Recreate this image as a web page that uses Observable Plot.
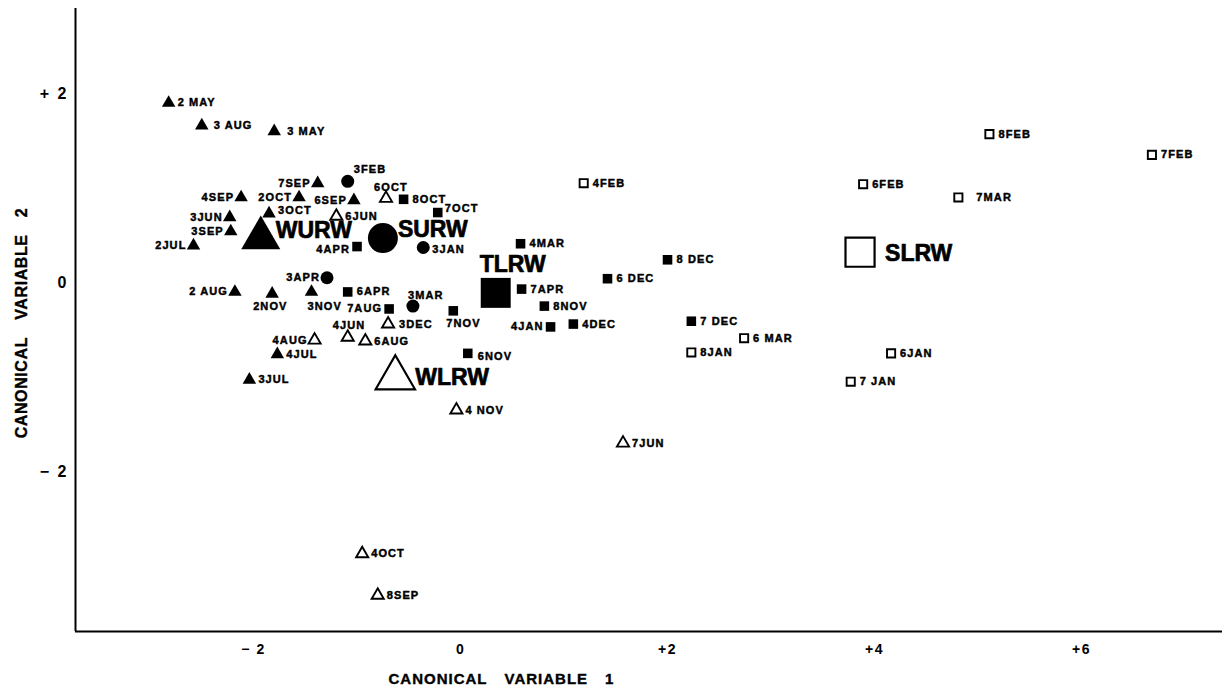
<!DOCTYPE html>
<html>
<head>
<meta charset="utf-8">
<script src="https://cdn.jsdelivr.net/npm/d3@7"></script>
<script src="https://cdn.jsdelivr.net/npm/@observablehq/plot@0.6"></script>
<style>
  html, body { margin: 0; padding: 0; background: #fff; }
  #chart svg { display: block; }
  g[aria-description="sample-label"] text { letter-spacing: 1.1px; }
  g[aria-description="x-title"] text { letter-spacing: 1px; }
  g[aria-description="y-title"] text { letter-spacing: 0.6px; }
  g[aria-description="x-tick-label"] text { letter-spacing: 1.5px; }
  g[aria-description="y-tick-label"] text { letter-spacing: 2px; }
</style>
</head>
<body>
<div id="chart"></div>
<script>
// Canonical discriminant scores (variable 1, variable 2) for each monthly sample,
// grouped by site class. Labels are sample number + month.
const wurwDates = ["2 MAY", "3 AUG", "3 MAY", "7SEP", "4SEP", "2OCT", "6SEP", "3OCT", "3JUN", "3SEP", "2JUL", "2 AUG", "2NOV", "3NOV", "4JUL", "3JUL"];
const wurwCV1 = [-2.82, -2.50, -1.80, -1.38, -2.12, -1.56, -1.03, -1.85, -2.23, -2.22, -2.58, -2.18, -1.82, -1.44, -1.77, -2.04];
const wurwCV2 = [1.90, 1.66, 1.60, 1.05, 0.90, 0.90, 0.87, 0.73, 0.69, 0.54, 0.39, -0.10, -0.12, -0.10, -0.76, -1.03];

const wlrwDates = ["6OCT", "6JUN", "4JUN", "3DEC", "6AUG", "4AUG", "4 NOV", "7JUN", "4OCT", "8SEP"];
const wlrwCV1 = [-0.72, -1.20, -1.09, -0.70, -0.92, -1.41, -0.04, 1.57, -0.95, -0.80];
const wlrwCV2 = [0.89, 0.70, -0.58, -0.44, -0.62, -0.61, -1.35, -1.70, -2.87, -3.31];

const surwDates = ["3FEB", "3JAN", "3APR", "3MAR"];
const surwCV1 = [-1.09, -0.36, -1.29, -0.46];
const surwCV2 = [1.07, 0.37, 0.05, -0.25];

const tlrwDates = ["8OCT", "7OCT", "4APR", "4MAR", "6APR", "7AUG", "7APR", "8NOV", "7NOV", "4JAN", "4DEC", "6NOV", "6 DEC", "8 DEC", "7 DEC"];
const tlrwCV1 = [-0.55, -0.22, -1.00, 0.58, -1.09, -0.69, 0.59, 0.81, -0.07, 0.87, 1.09, 0.07, 1.42, 2.00, 2.23];
const tlrwCV2 = [0.88, 0.74, 0.38, 0.41, -0.10, -0.28, -0.07, -0.25, -0.30, -0.47, -0.44, -0.75, 0.04, 0.24, -0.41];

const slrwDates = ["4FEB", "6FEB", "8FEB", "7FEB", "7MAR", "6 MAR", "8JAN", "6JAN", "7 JAN"];
const slrwCV1 = [1.19, 3.89, 5.11, 6.68, 4.81, 2.74, 2.23, 4.16, 3.77];
const slrwCV2 = [1.05, 1.04, 1.57, 1.35, 0.90, -0.59, -0.74, -0.75, -1.05];

// Group centroids
const groupNames = ["WURW", "SURW", "TLRW", "WLRW", "SLRW"];
const groupCV1 = [-1.93, -0.75, 0.34, -0.63, 3.86];
const groupCV2 = [0.47, 0.47, -0.11, -1.01, 0.32];

// Axes
const xDomain = [-3.72, 7.362];
const yDomain = [-3.693, 2.899];
const xTickValues = [-2, 0, 2, 4, 6];
const xTickLabels = ["\u2212 2", "0", "+2", "+4", "+6"];
const yTickValues = [2, 0, -2];
const yTickLabels = ["+ 2", "0", "\u2212 2"];
const xTitle = "CANONICAL\u2002\u2002VARIABLE\u2002\u20021";
const yTitle = "CANONICAL\u2002\u2002VARIABLE\u2002\u20022";

// ---- build tables ----
const rows = (group, dates, cv1, cv2) => dates.map((date, i) => ({group, date, cv1: cv1[i], cv2: cv2[i]}));
const samples = [
  ...rows("WURW", wurwDates, wurwCV1, wurwCV2),
  ...rows("WLRW", wlrwDates, wlrwCV1, wlrwCV2),
  ...rows("SURW", surwDates, surwCV1, surwCV2),
  ...rows("TLRW", tlrwDates, tlrwCV1, tlrwCV2),
  ...rows("SLRW", slrwDates, slrwCV1, slrwCV2)
];
const centroids = groupNames.map((group, i) => ({group, cv1: groupCV1[i], cv2: groupCV2[i]}));

// ---- marker styling per group ----
const groupSymbol = {WURW: "triangle", WLRW: "triangle", SURW: "circle", TLRW: "square", SLRW: "square"};
const groupFilled = {WURW: true, WLRW: false, SURW: true, TLRW: true, SLRW: false};
const smallR = {triangle: 5, circle: 6.5, square: 5.4};
const smallOpenR = {triangle: 4.5, square: 4.6};
const bigR = {triangle: 14.5, circle: 15, square: 16.9};
const bigOpenR = {triangle: 14.6, square: 16.4};

// ---- label placement ----
const leftLabeled = new Set(["7SEP", "4SEP", "2OCT", "6SEP", "3JUN", "3SEP", "2JUL", "2 AUG", "4AUG", "3APR", "7AUG", "4JAN"]);
// [dx, dy, anchor] for labels that sit off the default right-hand position
const labelNudge = {
  "6OCT": [-12, -11, "start"], "3FEB": [6, -12, "start"], "4JUN": [-15, -12, "start"], "3MAR": [-5, -11, "start"],
  "2NOV": [-19, 13, "start"], "3NOV": [-4, 15, "start"], "7NOV": [-7, 13, "start"], "6NOV": [10, 3, "start"],
  "7MAR": [18, 0, "start"], "8DEC": [14, 0, "start"], "3 AUG": [12, 0, "start"], "3 MAY": [13, 0, "start"],
  "3DEC": [11, 0, "start"], "7OCT": [7, -4, "start"], "3OCT": [9, -3, "start"], "3JAN": [9, 2, "start"],
  "4APR": [-7, 3, "end"]
};
const centroidNudge = {WURW: [15, -7.8, "start"], SURW: [15, -8.6, "start"], TLRW: [17, -28, "middle"], WLRW: [20, 0, "start"], SLRW: [25, 1, "start"]};

const font = "'Liberation Sans', Arial, Helvetica, sans-serif";
const pos = {x: "cv1", y: "cv2"};

const marks = [];

// axis lines
marks.push(Plot.ruleX([xDomain[0]], {stroke: "#000", strokeWidth: 2}));
marks.push(Plot.ruleY([yDomain[0]], {stroke: "#000", strokeWidth: 2}));

// sample markers
for (const g of groupNames) {
  const sym = groupSymbol[g];
  const data = samples.filter(d => d.group === g);
  if (groupFilled[g]) {
    marks.push(Plot.dot(data, {...pos, symbol: sym, r: smallR[sym], fill: "#000", stroke: "none"}));
  } else {
    marks.push(Plot.dot(data, {...pos, symbol: sym, r: smallOpenR[sym], fill: "#fff", stroke: "#000", strokeWidth: 1.9}));
  }
}

// centroid markers
for (const c of centroids) {
  const sym = groupSymbol[c.group];
  if (groupFilled[c.group]) {
    marks.push(Plot.dot([c], {...pos, symbol: sym, r: bigR[sym], fill: "#000", stroke: "none"}));
  } else {
    marks.push(Plot.dot([c], {...pos, symbol: sym, r: bigOpenR[sym], fill: "#fff", stroke: "#000", strokeWidth: 2.2}));
  }
}

// sample labels (a thin stroke gives the heavy printed look)
const labelStyle = {...pos, text: "date", fontSize: 11, fontWeight: "bold", fontFamily: font, fill: "#000", stroke: "#000", strokeWidth: 0.45, ariaDescription: "sample-label"};
marks.push(Plot.text(samples.filter(d => !leftLabeled.has(d.date) && !(d.date in labelNudge)), {...labelStyle, textAnchor: "start", dx: 9}));
marks.push(Plot.text(samples.filter(d => leftLabeled.has(d.date)), {...labelStyle, textAnchor: "end", dx: -7}));
for (const [name, [dx, dy, anchor]] of Object.entries(labelNudge)) {
  marks.push(Plot.text(samples.filter(d => d.date === name), {...labelStyle, textAnchor: anchor, dx, dy}));
}

// centroid labels
for (const c of centroids) {
  const [dx, dy, anchor] = centroidNudge[c.group];
  marks.push(Plot.text([c], {...pos, text: "group", fontSize: 23, fontWeight: "bold", fontFamily: font, fill: "#000", stroke: "#000", strokeWidth: 0.7, textAnchor: anchor, dx, dy}));
}

// tick labels
marks.push(Plot.axisX({
  ticks: xTickValues, tickFormat: d => xTickLabels[xTickValues.indexOf(d)],
  tickSize: 0, tickPadding: 13, fontSize: 14, fontWeight: "bold", fontFamily: font,
  fill: "#000", stroke: "#000", strokeWidth: 0.5,
  label: null, ariaDescription: "x-tick-label"
}));
marks.push(Plot.axisY({
  ticks: yTickValues, tickFormat: d => yTickLabels[yTickValues.indexOf(d)],
  tickSize: 0, tickPadding: 7, fontSize: 16, fontWeight: "bold", fontFamily: font,
  fill: "#000", stroke: "#000", strokeWidth: 0.5,
  label: null, ariaDescription: "y-tick-label"
}));

// axis titles
marks.push(Plot.text([xTitle], {frameAnchor: "bottom-left", textAnchor: "start", dx: 313, dy: 52, fontSize: 15, fontWeight: "bold", fontFamily: font, fill: "#000", stroke: "#000", strokeWidth: 0.4, ariaDescription: "x-title"}));
marks.push(Plot.text([yTitle], {frameAnchor: "left", rotate: -90, textAnchor: "middle", dx: -54, dy: 3, fontSize: 16, fontWeight: "bold", fontFamily: font, fill: "#000", stroke: "#000", strokeWidth: 0.4, ariaDescription: "y-title"}));

const chart = Plot.plot({
  width: 1222,
  height: 692,
  marginLeft: 75,
  marginRight: 0,
  marginTop: 8,
  marginBottom: 61,
  x: {domain: xDomain},
  y: {domain: yDomain},
  style: {background: "#fff", color: "#000", fontFamily: font, overflow: "visible"},
  marks
});

document.getElementById("chart").appendChild(chart);
</script>
</body>
</html>
